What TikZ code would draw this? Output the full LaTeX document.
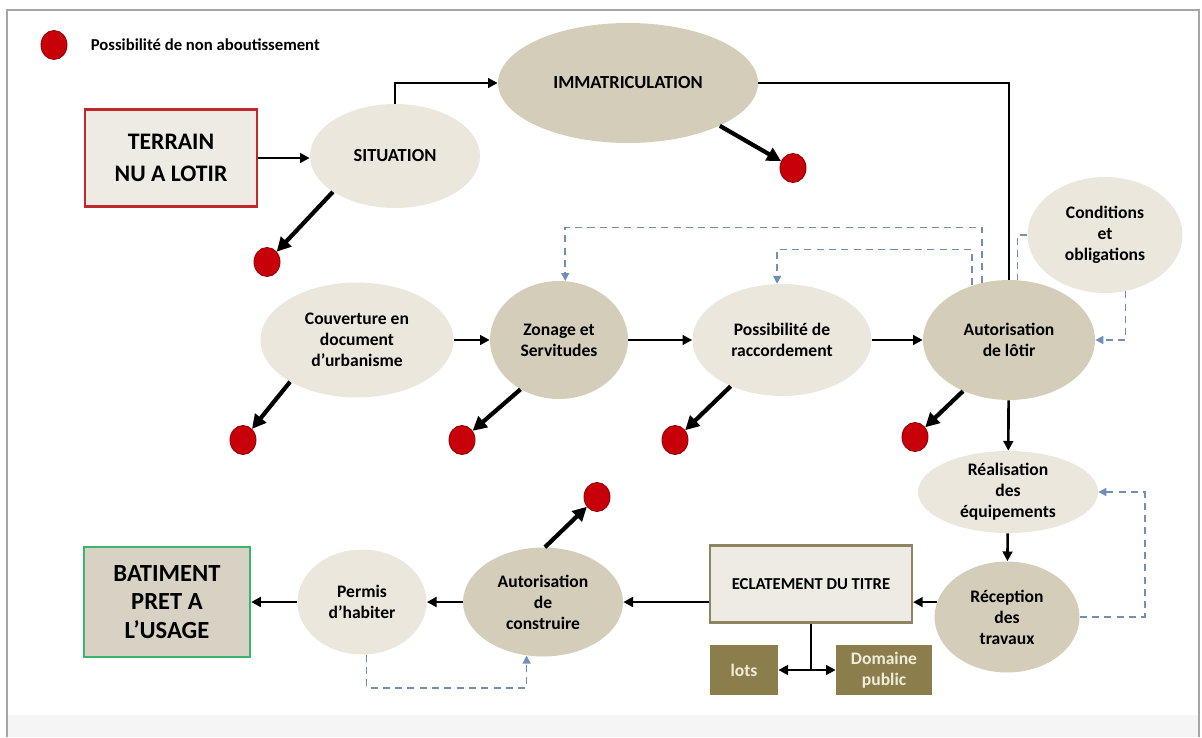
\documentclass[tikz,border=0pt]{standalone}
\usepackage{fontspec}
\setmainfont{Carlito}
\usetikzlibrary{arrows.meta, positioning, shapes.geometric}
\definecolor{beigeclair}{HTML}{EBE7DD}
\definecolor{beigefonce}{HTML}{D4CDB9}
\definecolor{grisclair}{HTML}{EEEBE4}
\definecolor{grisfonce}{HTML}{D7D2C4}
\definecolor{brunolive}{HTML}{8C7E4C}
\definecolor{bordolive}{HTML}{8E8560}
\definecolor{creme}{HTML}{F0ECD8}
\definecolor{rougedot}{HTML}{C8000A}
\definecolor{rougecadre}{HTML}{C0282D}
\definecolor{vertcadre}{HTML}{3DB46D}
\definecolor{bleutir}{HTML}{6F8FB5}

\begin{document}
\begin{tikzpicture}[
  x=0.02cm, y=-0.02cm,
  etape/.style={ellipse, fill=beigeclair, inner sep=0pt, align=center, font=\bfseries\fontsize{10}{12}\selectfont},
  etapef/.style={etape, fill=beigefonce},
  cadre/.style={rectangle, draw, line width=1.3pt, inner sep=0pt, align=center, font=\bfseries\fontsize{14}{16}\selectfont},
  lotbox/.style={rectangle, fill=brunolive, text=creme, inner sep=0pt, align=center, minimum height=1cm, font=\bfseries\fontsize{10}{12}\selectfont},
  echec/.style={ellipse, fill=rougedot, draw=rougedot!75!black, line width=0.5pt, minimum width=0.52cm, minimum height=0.58cm, inner sep=0pt},
  fl/.style={-{Triangle[length=5.5pt,width=5.5pt]}, line width=1.5pt},
  flx/.style={-{Triangle[length=8pt,width=8pt]}, line width=2.4pt},
  tirl/.style={draw=bleutir, line width=0.9pt, dash pattern=on 4pt off 3pt},
  tir/.style={tirl, -{Triangle[length=4.5pt,width=4.5pt]}}
  ]
  \useasboundingbox (0,0) rectangle (1202,737);
  % cadre
  \fill[gray!8] (8,715) rectangle (1198,737);
  \draw[gray!70, line width=1pt] (7,737) -- (7,10) -- (1199,10) -- (1199,737);
  % legende
  \node[echec] (leg) at (54,45) {};
  \node[right=0.46cm of leg, inner sep=0pt, font=\bfseries\fontsize{9.5}{11}\selectfont] (legtxt) {Possibilité de non aboutissement};
  % premiere ligne
  \node[cadre, draw=rougecadre, fill=grisclair, minimum width=3.44cm, minimum height=1.94cm, font=\bfseries\fontsize{13.5}{18}\selectfont] (terrain) at (171,158) {TERRAIN\\NU A LOTIR};
  \node[etape, minimum width=3.4cm, minimum height=2.08cm, font=\bfseries\fontsize{10.5}{12}\selectfont] (sit) at (395,156) {SITUATION};
  \node[etapef, minimum width=5.2cm, minimum height=2.4cm, font=\bfseries\fontsize{10.5}{12}\selectfont] (immat) at (628,83) {IMMATRICULATION};
  \node[etape, minimum width=3.1cm, minimum height=2.32cm] (cond) at (1105,235) {Conditions\\et\\obligations};
  % deuxieme ligne
  \node[etape, minimum width=3.86cm, minimum height=2.3cm] (cou) at (357,340) {Couverture en\\document\\d’urbanisme};
  \node[etapef, minimum width=2.76cm, minimum height=2.36cm] (zon) at (559,340) {Zonage et\\Servitudes};
  \node[etape, minimum width=3.58cm, minimum height=2.24cm] (rac) at (782,340) {Possibilité de\\raccordement};
  \node[etapef, minimum width=3.44cm, minimum height=2.4cm] (lot) at (1009,340) {Autorisation\\de lôtir};
  % troisieme ligne
  \node[etape, minimum width=3.6cm, minimum height=1.64cm] (rea) at (1008,492) {Réalisation\\des\\équipements};
  \node[etapef, minimum width=2.9cm, minimum height=2.22cm] (rec) at (1007,617) {Réception\\des\\travaux};
  \node[cadre, draw=bordolive, fill=grisclair, minimum width=4.04cm, minimum height=1.54cm, line width=1.2pt, font=\bfseries\fontsize{9.5}{11}\selectfont] (ecl) at (811,584) {ECLATEMENT DU TITRE};
  \node[lotbox, minimum width=1.36cm] (lots) at (744,670) {lots};
  \node[lotbox, minimum width=1.92cm] (dom) at (884,670) {Domaine\\public};
  \node[etapef, minimum width=3.2cm, minimum height=2.18cm] (con) at (543,602) {Autorisation\\de\\construire};
  \node[etape, minimum width=2.58cm, minimum height=2.1cm] (per) at (362,602) {Permis\\d’habiter};
  \node[cadre, draw=vertcadre, fill=grisfonce, minimum width=3.32cm, minimum height=2.2cm] (bat) at (167,602) {BATIMENT\\PRET A\\L’USAGE};
  % non aboutissement
  \node[echec] (d1) at (267,262) {};
  \node[echec] (d2) at (793,168) {};
  \node[echec] (d3) at (243,440) {};
  \node[echec] (d4) at (462,440) {};
  \node[echec] (d5) at (675,440) {};
  \node[echec] (d6) at (915,437) {};
  \node[echec] (d7) at (597,497) {};
  % fleches
  \draw[fl] (terrain.east) -- (terrain.east -| sit.west);
  \draw[fl] (sit.north) |- (immat.west);
  \draw[line width=1.5pt] (immat.east) -| (lot.north);
  \draw[fl] (cou) -- (zon);
  \draw[fl] (zon) -- (rac);
  \draw[fl] (rac) -- (lot);
  \draw[fl] (lot) -- (rea);
  \draw[fl] (rea) -- (rec);
  \draw[fl] (rec.168) -- (rec.168 -| ecl.east);
  \draw[fl] (con.east -| ecl.west) -- (con.east);
  \draw[fl] (con) -- (per);
  \draw[fl] (per) -- (bat);
  \coordinate (fourche) at (ecl.south |- lots);
  \draw[line width=1.5pt] (ecl.south) -- (fourche);
  \draw[fl] (fourche) -- (lots);
  \draw[fl] (fourche) -- (dom);
  \draw[flx] (sit.210) -- (d1);
  \draw[flx] (immat.-25) -- (d2);
  \draw[flx] (cou.212) -- (d3);
  \draw[flx] (zon.232) -- (d4);
  \draw[flx] (rac.222) -- (d5);
  \draw[flx] (lot.228) -- (d6);
  \draw[flx] (con.88) -- (d7);
  % retours en pointille
  \draw[tir] (lot.115) -- ++(0,-55) -| (zon.84);
  \draw[tir] (lot.124) -- ++(0,-36) -| (rac.95);
  \draw[tirl] (cond.west) -| (lot.82);
  \draw[tir] (cond.-70) |- (lot.east);
  \draw[tir] (rec.east) -- ++(65,0) |- (rea.east);
  \draw[tir] (per.-85) -- ++(0,33) -| (con.-107);
\end{tikzpicture}
\end{document}
